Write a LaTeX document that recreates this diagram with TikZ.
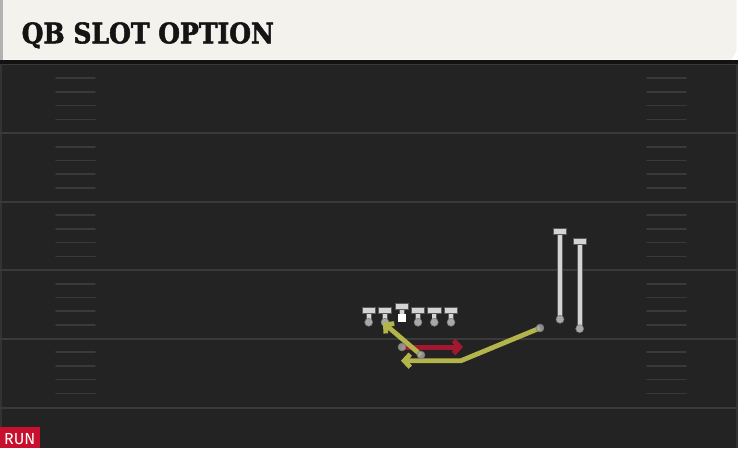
\documentclass[tikz,border=0pt]{standalone}
\usepackage{fontspec}
\usetikzlibrary{arrows.meta}
\newfontfamily\titlefont[BoldFeatures={FakeBold=2}]{DejaVu Serif}
\newfontfamily\tagfont{Fira Sans}
\definecolor{fieldc}{HTML}{232323}
\definecolor{yardc}{HTML}{3A3A3A}
\definecolor{hashc}{HTML}{3A3A3A}
\definecolor{headc}{HTML}{F4F2EC}
\definecolor{shadc}{HTML}{121212}
\definecolor{routey}{HTML}{B4B44C}
\definecolor{runred}{HTML}{A3182F}
\definecolor{tagred}{HTML}{C8102E}
\definecolor{tgray}{HTML}{D4D4D4}
\definecolor{dgray}{HTML}{A8A8A8}
\begin{document}
\begin{tikzpicture}[x=1pt,y=-1pt,
  yard/.style={draw=yardc,line width=2pt},
  hash/.style={draw=hashc,line width=1.6pt,line cap=round},
  tbar/.style={rectangle,fill=tgray,draw=black!65,line width=0.6pt,minimum width=13.5pt,minimum height=6pt,inner sep=0pt},
  pdot/.style={circle,fill=dgray,draw=black!55,line width=0.5pt,minimum size=8pt,inner sep=0pt},
  stemline/.style={draw=tgray,line width=4.2pt,preaction={draw=black!65,line width=5.6pt}},
  route/.style={draw=routey,line width=4.8pt,line join=round,-{Straight Barb[length=6pt,width=13pt]}},
  runroute/.style={draw=runred,line width=5pt,-{Straight Barb[length=6pt,width=13pt]}},
  ctrbox/.style={rectangle,fill=white,minimum size=8pt,inner sep=0pt}]
\useasboundingbox (0,0) rectangle (738,448);
% field
\fill[fieldc] (0,60) rectangle (738,448);
\fill[shadc] (0,59.5) rectangle (738,63.5);
\draw[draw=black!78,line width=1pt] (0,64.5) -- (738,64.5);
\fill[black!80] (0,63.5) rectangle (2.2,448);
\fill[black!80] (735.8,63.5) rectangle (738,448);
% yard lines
\foreach \y in {133,201.5,270,338.5,408}
  \draw[yard] (0,\y) -- (738,\y);
% hash marks
\foreach \y in {64.5,133,201.5,270,338.5}
  \foreach \k in {1,2,3,4}{
    \draw[hash] (56,\y+\k*13.7) -- (95,\y+\k*13.7);
    \draw[hash] (647,\y+\k*13.7) -- (686,\y+\k*13.7);
  }
% header
\fill[headc] (0,0) -- (736.7,0) -- (736.7,50) -- (731.7,59.5) -- (0,59.5) -- cycle;
\fill[black!30] (0,0) rectangle (2.7,59.5);
\node[anchor=base west,inner sep=0pt,text=black!92] (title) at (21.5,43.3)
  {\scalebox{0.885}[1]{\fontsize{28.3}{30}\selectfont\titlefont\bfseries QB SLOT OPTION}};
% run tag
\node[anchor=south west,fill=tagred,minimum width=40pt,minimum height=20.5pt,inner sep=0pt] (tagbox) at (0,448) {};
\node[anchor=base west,inner sep=0pt,text=white] (tag) at (4,444.3)
  {\fontsize{16}{16}\selectfont\tagfont RUN};
% linemen
\foreach \n/\x in {l1/368.7,l2/385,l4/418,l5/434.3,l6/451}{
  \draw[stemline] (\x,312) -- (\x,320);
  \node[tbar] (\n bar) at (\x,309.8) {};
  \node[pdot] (\n) at (\x,322.3) {};
}
% center
\draw[stemline] (401.7,308) -- (401.7,315);
\node[tbar] (cbar) at (401.7,305.8) {};
\node[ctrbox] (c) at (401.7,318.3) {};
% wide receivers
\draw[stemline] (560,233) -- (560,317);
\node[tbar] (wr1bar) at (560,231.7) {};
\node[pdot] (wr1) at (560,319.3) {};
\draw[stemline] (579.7,242) -- (579.7,326);
\node[tbar] (wr2bar) at (579.7,240.8) {};
\node[pdot] (wr2) at (579.7,328.7) {};
% routes
\coordinate (slotbend) at (461,360.7);
\coordinate (slotend) at (401,360.7);
\coordinate (rbend) at (383,322.5);
\coordinate (qbend) at (463,347);
\node[pdot,draw=none,fill=none] (slot) at (540,328) {};
\node[pdot,draw=none,fill=none] (qb) at (402,347) {};
\node[pdot,draw=none,fill=none] (rb) at (421,355) {};
\draw[runroute] (qb.center) -- (qbend);
\draw[route] (slot.center) -- (slotbend) -- (slotend);
\draw[route] (rb.center) -- (rbend);
\node[pdot,fill opacity=0.8] at (slot) {};
\node[pdot,fill opacity=0.8] at (qb) {};
\node[pdot,fill opacity=0.8] at (rb) {};
\end{tikzpicture}
\end{document}
